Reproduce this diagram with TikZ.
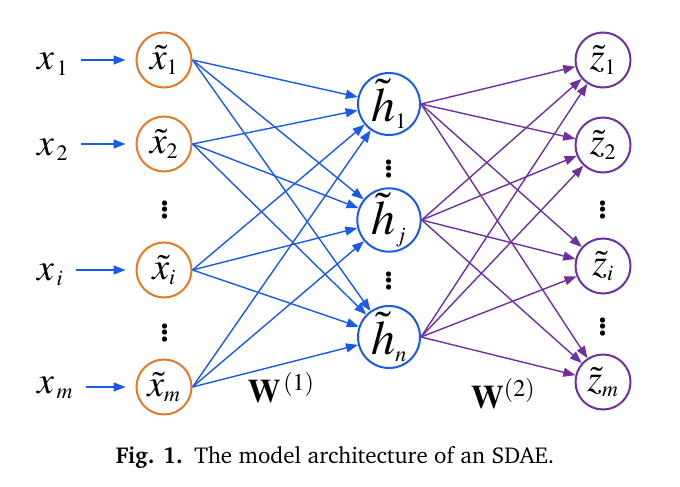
\documentclass[tikz,border=0pt]{standalone}
\usepackage[T1,TU]{fontenc}
\usepackage{mathptmx}
\usepackage{fontspec}
\setmainfont{Liberation Serif}
\usetikzlibrary{arrows.meta}
\DeclareMathSizes{38}{38}{22}{16}
\DeclareMathSizes{48}{48}{22}{16}
\DeclareMathSizes{33}{33}{24}{18}
\DeclareMathSizes{44}{44}{24}{18}
\definecolor{nnblue}{RGB}{25,90,235}
\definecolor{nnorange}{RGB}{228,122,38}
\definecolor{nnpurple}{RGB}{112,48,160}
\tikzset{
  inlabel/.style={inner sep=0pt, anchor=base west, font=\fontsize{38}{40}\selectfont},
  xunit/.style={circle, draw=nnorange, line width=2pt, minimum size=55pt, inner sep=0pt, font=\fontsize{38}{40}\selectfont},
  hunit/.style={circle, draw=nnblue, line width=2pt, minimum size=62pt, inner sep=0pt, font=\fontsize{48}{50}\selectfont},
  zunit/.style={circle, draw=nnpurple, line width=2pt, minimum size=55pt, inner sep=0pt, font=\fontsize{38}{40}\selectfont},
  dotsnode/.style={inner sep=0pt, font=\fontsize{44}{46}\selectfont},
  blueedge/.style={draw=nnblue, line width=1.4pt, -{Triangle[length=12pt,width=9pt]}},
  purpleedge/.style={draw=nnpurple, line width=1.4pt, -{Triangle[length=12pt,width=9pt]}},
  wlabel/.style={inner sep=0pt, font=\fontsize{33}{35}\selectfont},
}
\begin{document}
\begin{tikzpicture}[x=1pt,y=-1pt]
\useasboundingbox (0,0) rectangle (680,487);
% input labels
\node[inlabel] (xl1) at (37,70) {$x_{\,1}$};
\node[inlabel] (xl2) at (37,155) {$x_{\,2}$};
\node[inlabel] (xli) at (37,280) {$x_{\,i}$};
\node[inlabel] (xlm) at (37,393) {$x_{\,m}$};
% corrupted inputs
\node[xunit] (xt1) at (164,60) {$\tilde{x}_1$};
\node[xunit] (xt2) at (164,144) {$\tilde{x}_2$};
\node[xunit] (xti) at (164,270) {$\tilde{x}_i$};
\node[xunit] (xtm) at (164,387) {$\tilde{x}_m$};
\node[dotsnode] (dl1) at (165,207) {$\vdots$};
\node[dotsnode] (dl2) at (165,330) {$\vdots$};
% hidden
\node[hunit] (h1) at (389,104) {$\tilde{h}_1$};
\node[hunit] (hj) at (389,220) {$\tilde{h}_j$};
\node[hunit] (hn) at (389,337) {$\tilde{h}_n$};
\node[dotsnode] (dm1) at (389,166) {$\vdots$};
\node[dotsnode] (dm2) at (389,278) {$\vdots$};
% outputs
\node[zunit] (z1) at (603,60) {$\tilde{z}_1$};
\node[zunit] (z2) at (603,145) {$\tilde{z}_2$};
\node[zunit] (zi) at (603,266) {$\tilde{z}_i$};
\node[zunit] (zm) at (603,382) {$\tilde{z}_m$};
\node[dotsnode] (dr1) at (603,207) {$\vdots$};
\node[dotsnode] (dr2) at (603,324) {$\vdots$};
% input arrows
\foreach \a/\b in {xl1/xt1, xl2/xt2, xli/xti, xlm/xtm}
  \draw[blueedge, shorten <=13pt, shorten >=10pt] (\a.east |- \b) -- (\b.west);
% first layer
\foreach \a in {xt1,xt2,xti,xtm}
  \foreach \b in {h1,hj,hn}
    \draw[blueedge] (\a.east) -- (\b);
% second layer
\foreach \a in {h1,hj,hn}
  \foreach \b in {z1,z2,zi,zm}
    \draw[purpleedge] (\a.east) -- (\b);
% weight labels
\node[wlabel] (w1) at (281,388) {$\mathbf{W}^{\,(1)}$};
\node[wlabel] (w2) at (503,394) {$\mathbf{W}^{(2)}$};
% caption
\node[inner sep=0pt, anchor=base] (cap) at (335,463) {\fontencoding{T1}\fontfamily{bch}\fontsize{23}{26}\selectfont\textbf{Fig. 1.}\enspace The model architecture of an SDAE.};
\end{tikzpicture}
\end{document}
